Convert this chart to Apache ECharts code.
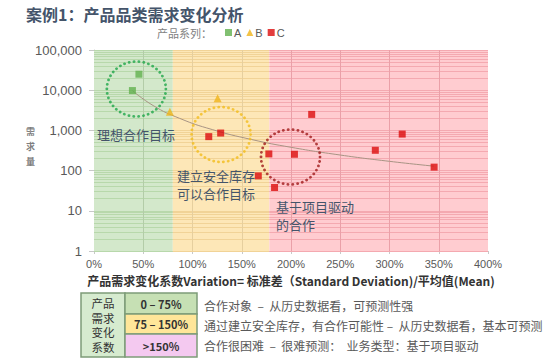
<!DOCTYPE html>
<html><head><meta charset="utf-8">
<script src="https://cdn.jsdelivr.net/npm/echarts@6/dist/echarts.min.js"></script>
<style>html,body{margin:0;padding:0;background:#fff}#c{width:560px;height:360px}</style>
</head><body><div id="c"></div><script>
// ---- data ----
const titleText = '案例1：产品品类需求变化分析';
const seriesNames = ['A', 'B', 'C'];
const seriesA_x = [45.6, 39];
const seriesA_y = [25000, 9800];
const seriesB_x = [77, 125.5];
const seriesB_y = [2900, 6300];
const seriesC_x = [116.5, 128.6, 166.8, 177.5, 183.3, 203.5, 221, 285.6, 312.9, 345.3];
const seriesC_y = [700, 860, 74, 260, 38, 255, 2500, 320, 810, 122];
const trendX = [39, 60, 87, 120, 160, 200, 250, 300, 345];
const trendY = [9800, 4160, 1990, 1050, 593, 380, 244, 170, 129];
const circleX = [43, 129, 199.5];
const circleY = [10700, 790, 218];
const bandEdges = [0, 80, 178, 400];
const xTickValues = [0, 50, 100, 150, 200, 250, 300, 350, 400];
const yTickValues = [1, 10, 100, 1000, 10000, 100000];
const annotation1 = ['理想合作目标'];
const annotation2 = ['建立安全库存', '可以合作目标'];
const annotation3 = ['基于项目驱动', '的合作'];
const tableHeader = ['产品', '需求', '变化', '系数'];
const tableRanges = ['0 – 75%', '75 – 150%', '>150%'];
const tableDescs = [
  '合作对象  –  从历史数据看，可预测性强',
  '通过建立安全库存，有合作可能性 –  从历史数据看，基本可预测',
  '合作很困难  –  很难预测：  业务类型：基于项目驱动'
];
const xAxisName = '产品需求变化系数Variation= 标准差（Standard Deviation)/平均值(Mean)';

// ---- styles ----
const bandFill = ['#d3e8cb', '#fde7b7', '#ffccd0'];
const bandLine = ['#b8d8ab', '#f1d397', '#f4a9b0'];
const bandVLine = ['#b3cca8', '#e6cf9e', '#eaa0a8'];
const circleColors = ['#1fa64a', '#f3bd1c', '#a01a1a'];
const FONT = '"Noto Sans CJK SC", "Noto Sans", sans-serif';

function pairs(xs, ys) { return xs.map((x, i) => [x, ys[i]]); }

// minor/major log grid values (gridlines, not data)
const gridVals = [];
for (let i = 0; i < yTickValues.length; i++) {
  const d = yTickValues[i];
  const top = i === yTickValues.length - 1 ? 1 : 9;
  for (let k = 1; k <= top; k++) gridVals.push(d * k);
}

const bandSeries = [];
for (let b = 0; b < 3; b++) {
  const x0 = bandEdges[b], x1 = bandEdges[b + 1];
  const lines = gridVals.map(v => [{ coord: [x0, v] }, { coord: [x1, v] }]);
  xTickValues.filter(x => x > x0 && x < x1).forEach(x => {
    lines.push([{ coord: [x, 1], lineStyle: { color: bandVLine[b] } }, { coord: [x, 100000] }]);
  });
  bandSeries.push({
    type: 'scatter', data: [], silent: true, z: 1,
    markArea: { silent: true, z: 1, itemStyle: { color: bandFill[b] }, data: [[{ coord: [x0, 1] }, { coord: [x1, 100000] }]] },
    markLine: { silent: true, z: 2, symbol: 'none', label: { show: false },
      emphasis: { disabled: true },
      lineStyle: { color: bandLine[b], width: 1, type: 'solid' }, data: lines }
  });
}

function lineTexts(lines, x, y0, step, size) {
  return lines.map((t, i) => ({
    type: 'text', x: x, y: y0 + i * step, z: 20,
    style: { text: t, fontSize: size, verticalAlign: 'middle', fill: '#44546a', fontFamily: FONT }
  }));
}

const headerGraphics = tableHeader.map((t, i) => ({
  type: 'text', x: 103, y: 303 + i * 14.6,
  style: { text: t, fontSize: 11.5, align: 'center', verticalAlign: 'middle', fill: '#333', fontFamily: FONT }
}));
const rangeY = [303.5, 324, 345.5];
const rangeGraphics = tableRanges.map((t, i) => ({
  type: 'text', x: 161, y: rangeY[i],
  style: { text: t, fontSize: 11, fontWeight: 'bold', align: 'center', verticalAlign: 'middle', fill: '#333', fontFamily: FONT }
}));
const descY = [305.5, 325, 345];
const descGraphics = tableDescs.map((t, i) => ({
  type: 'text', x: 204, y: descY[i],
  style: { text: t, fontSize: 12, verticalAlign: 'middle', fill: '#595959', fontFamily: FONT }
}));

const chart = echarts.init(document.getElementById('c'), null, { renderer: 'svg' });
chart.setOption({
  animation: false,
  textStyle: { fontFamily: FONT },
  title: { text: titleText, left: 26, top: 5, padding: 0,
    textStyle: { fontSize: 16, lineHeight: 18, fontWeight: 'bold', color: '#44546a', fontFamily: FONT } },
  legend: { data: seriesNames, left: 225, top: 27, padding: 0, itemWidth: 7, itemHeight: 7, itemGap: 5,
    textStyle: { fontSize: 11, color: '#595959', fontFamily: 'Liberation Sans, Arial, sans-serif', padding: [0, 0, 0, -3] } },
  grid: { left: 94, right: 72, top: 50, bottom: 109, containLabel: false },
  xAxis: {
    type: 'value', min: 0, max: 400, interval: 50,
    axisLine: { show: true, lineStyle: { color: '#c8c8c8' } },
    axisTick: { show: true, length: 3, lineStyle: { color: '#c8c8c8' } },
    splitLine: { show: false },
    axisLabel: { formatter: v => v + '%', fontSize: 11, color: '#595959', margin: 7, fontFamily: 'Liberation Sans, Arial, sans-serif' },
    name: xAxisName, nameLocation: 'middle', nameGap: 23,
    nameTextStyle: { fontSize: 12, fontWeight: 'bold', color: '#333', fontFamily: FONT }
  },
  yAxis: {
    type: 'log', logBase: 10, min: 1, max: 100000,
    axisLine: { show: true, lineStyle: { color: '#c8c8c8' } },
    axisTick: { show: true, length: 5, lineStyle: { color: '#c8c8c8' } },
    splitLine: { show: false },
    axisLabel: { formatter: v => Number(v).toLocaleString('en-US'), fontSize: 13, color: '#595959', margin: 12, fontFamily: 'Liberation Sans, Arial, sans-serif' }
  },
  series: bandSeries.concat([
    { name: 'trend', type: 'line', data: pairs(trendX, trendY), smooth: true, showSymbol: false, silent: true, z: 8,
      lineStyle: { color: '#a89484', width: 1 } },
    { name: 'circles', type: 'scatter', silent: true, z: 9,
      data: circleX.map((x, i) => ({ value: [x, circleY[i]],
        itemStyle: { color: 'rgba(0,0,0,0)', borderColor: circleColors[i] } })),
      symbol: 'circle', symbolSize: [59, 55],
      itemStyle: { borderWidth: 2.8, borderType: [0.1, 4.6], borderCap: 'round' } },
    { name: 'A', type: 'scatter', symbol: 'rect', symbolSize: 7, z: 10, data: pairs(seriesA_x, seriesA_y), itemStyle: { color: '#62b04e' } },
    { name: 'B', type: 'scatter', symbol: 'triangle', symbolSize: 8, z: 10, data: pairs(seriesB_x, seriesB_y), itemStyle: { color: '#f0b419' } },
    { name: 'C', type: 'scatter', symbol: 'rect', symbolSize: 7, z: 10, data: pairs(seriesC_x, seriesC_y), itemStyle: { color: '#dc0c0c' } }
  ]),
  graphic: [
    { type: 'text', left: 157, top: 27, style: { text: '产品系列：', fontSize: 11, fill: '#7f7f7f', fontFamily: FONT } },
    { type: 'text', left: 26, top: 124, style: { text: '需\n求\n量', fontSize: 9, lineHeight: 15, fill: '#7f7f7f', fontWeight: 'bold', fontFamily: FONT } },
    // table
    { type: 'rect', shape: { x: 81, y: 293, width: 44, height: 64 }, style: { fill: '#d6ebcf', stroke: '#7d9c78', lineWidth: 1.5 } },
    { type: 'rect', shape: { x: 125, y: 293, width: 72, height: 21 }, style: { fill: '#c6e0b4', stroke: '#7d9c78', lineWidth: 1.5 } },
    { type: 'rect', shape: { x: 125, y: 314, width: 72, height: 20 }, style: { fill: '#ffe699', stroke: '#7d9c78', lineWidth: 1.5 } },
    { type: 'rect', shape: { x: 125, y: 334, width: 72, height: 23 }, style: { fill: '#f4c9f0', stroke: '#7d9c78', lineWidth: 1.5 } }
  ].concat(
    lineTexts(annotation1, 97, 134, 0, 13),
    lineTexts(annotation2, 177, 175, 18, 13),
    lineTexts(annotation3, 276, 206, 18, 13),
    headerGraphics, rangeGraphics, descGraphics)
});
</script></body></html>
